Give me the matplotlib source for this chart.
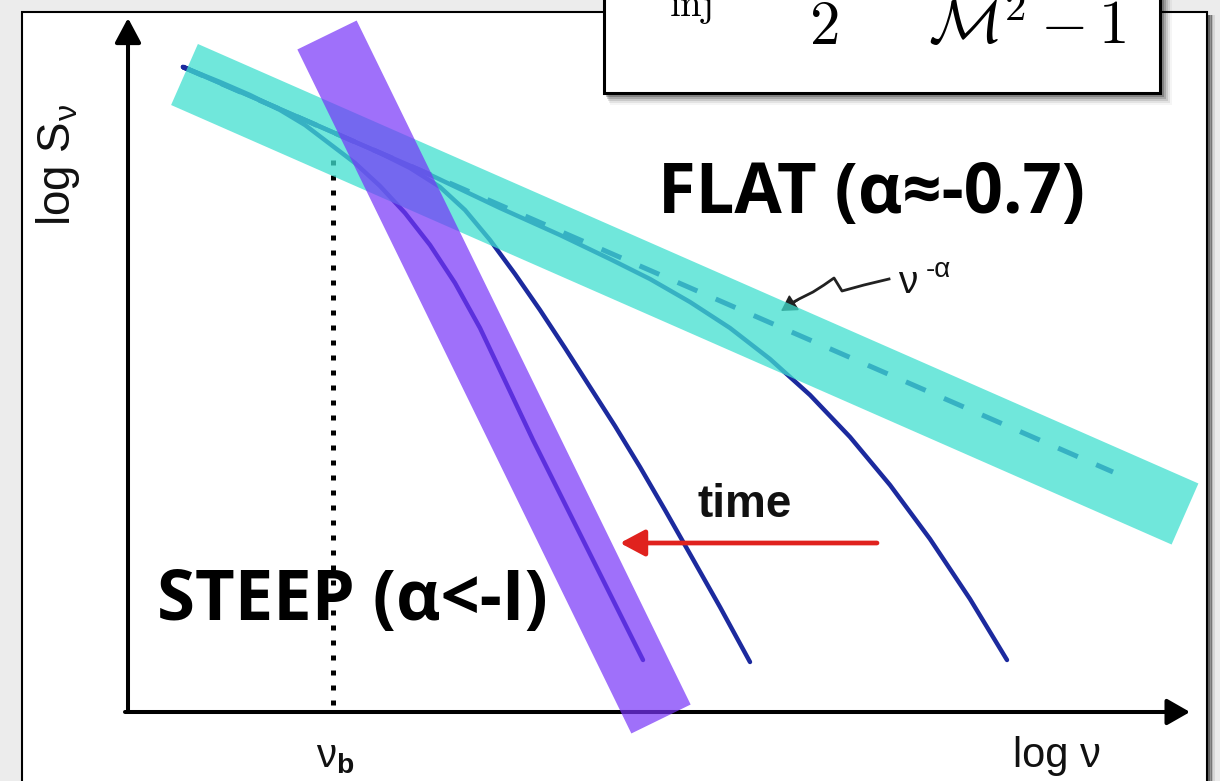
import matplotlib.pyplot as plt
from matplotlib.patches import Rectangle, FancyArrowPatch

plt.rcParams['mathtext.fontset'] = 'custom'
plt.rcParams['mathtext.rm'] = 'Liberation Sans'
plt.rcParams['mathtext.it'] = 'Liberation Sans'
plt.rcParams['mathtext.bf'] = 'Liberation Sans:bold'

# spectra in (log nu, log S), arbitrary units from the axis corner
powerlaw_nu = [0.55, 9.85]
powerlaw_S = [6.45, 2.40]

young_nu = [0.55, 1.22, 2.02, 2.92, 3.72, 4.32, 4.82, 5.22, 5.62, 6.02, 6.42,
            6.82, 7.22, 7.62, 8.02, 8.42, 8.79]
young_S = [6.45, 6.16, 5.81, 5.42, 5.04, 4.77, 4.53, 4.33, 4.10, 3.84, 3.53,
           3.17, 2.75, 2.27, 1.73, 1.13, 0.52]

middle_nu = [0.55, 1.22, 2.02, 2.52, 2.82, 3.12, 3.37, 3.62, 3.87, 4.12, 4.37,
             4.62, 4.87, 5.12, 5.37, 5.62, 5.92, 6.22]
middle_S = [6.45, 6.16, 5.81, 5.59, 5.44, 5.25, 5.02, 4.72, 4.38, 4.02, 3.64,
            3.25, 2.86, 2.45, 2.02, 1.58, 1.05, 0.50]

old_nu = [0.55, 0.92, 1.22, 1.52, 1.77, 2.02, 2.27, 2.52, 2.77, 3.02, 3.27,
          3.52, 3.79, 4.05, 4.32, 4.60, 4.87, 5.15]
old_S = [6.45, 6.30, 6.17, 6.02, 5.87, 5.68, 5.49, 5.26, 4.99, 4.67, 4.29,
         3.84, 3.27, 2.72, 2.18, 1.62, 1.08, 0.52]

nu_break = 2.05

# highlight bands (end points along their centre lines)
flat_band_nu = [0.565, 10.57]
flat_band_S = [6.375, 1.98]
steep_band_nu = [1.99, 5.33]
steep_band_S = [6.77, -0.07]

W, H = 1220, 781
fig = plt.figure(figsize=(12.2, 7.81), dpi=100, facecolor='#ececec')

# page frame
bg = fig.add_axes([0, 0, 1, 1], zorder=0)
bg.set_xlim(0, W)
bg.set_ylim(H, 0)
bg.axis('off')
for i, a in enumerate([0.7, 0.45, 0.25, 0.1]):
    bg.plot([1209 + 1.5 * i, 1209 + 1.5 * i], [16, H], color='#222222', lw=1.4, alpha=a)
bg.add_patch(Rectangle((22, 12), 1185, 800, facecolor='white', edgecolor='black', lw=1.5))

# axis labels
bg.text(58, 165, r'log S$_{\nu}$', rotation=90, ha='center', va='center',
        fontsize=33, family='Liberation Sans', color='#111111')
bg.text(335, 756, r'$\nu_{\mathbf{b}}$', ha='center', va='center', fontsize=29,
        color='#111111')
bg.text(1057, 756, 'log ν', ha='center', va='center', fontsize=30,
        family='Liberation Sans', color='#111111')

# squiggly pointer to the power law
sq_x = [889, 864, 842, 834, 824, 813, 799, 790]
sq_y = [279, 285, 291, 278, 285, 292, 299, 304]
bg.plot(sq_x, sq_y, color='#222222', lw=2.0, solid_joinstyle='round')
bg.add_patch(FancyArrowPatch((798, 300), (781, 311), arrowstyle='-|>,head_length=0.6,head_width=0.35',
                             mutation_scale=16, color='#222222', lw=1.2, shrinkA=0, shrinkB=0))
bg.text(898, 283, 'ν', ha='left', va='center', fontsize=28, family='Liberation Sans',
        color='#111111')
bg.text(926, 270, '-α', ha='left', va='center', fontsize=20, family='Liberation Sans',
        color='#111111')

# spectra panel
ax = fig.add_axes([128 / W, (H - 712) / H, (1190 - 128) / W, (712 - 18) / H], zorder=1)
ax.set_xlim(0, 10.62)
ax.set_ylim(0, 6.94)
ax.axis('off')
ax.patch.set_visible(False)

navy = '#1c2a9e'
ax.plot(powerlaw_nu, powerlaw_S, color=navy, lw=3.6, dashes=(4.3, 4.0), zorder=2)
for nu, S in [(young_nu, young_S), (middle_nu, middle_S), (old_nu, old_S)]:
    ax.plot(nu, S, color=navy, lw=3.2, solid_capstyle='round', solid_joinstyle='round',
            zorder=3)

ax.plot([nu_break, nu_break], [0.07, 5.57], color='black', lw=3.6,
        linestyle=(0, (1, 2.0)), dash_capstyle='butt', zorder=2)

# axes with arrow heads
ax.add_patch(FancyArrowPatch((0, 0), (0, 6.94), arrowstyle='-|>,head_length=0.75,head_width=0.4',
                             mutation_scale=20, color='black', lw=2.9, shrinkA=0, shrinkB=0,
                             clip_on=False, zorder=4))
ax.add_patch(FancyArrowPatch((-0.03, 0), (10.62, 0), arrowstyle='-|>,head_length=0.7,head_width=0.4',
                             mutation_scale=20, color='black', lw=2.9, shrinkA=0, shrinkB=0,
                             clip_on=False, zorder=4))

# time arrow
ax.add_patch(FancyArrowPatch((7.49, 1.69), (4.92, 1.69), arrowstyle='-|>,head_length=0.75,head_width=0.4',
                             mutation_scale=20, color='#e0221e', lw=3.4, shrinkA=0, shrinkB=0,
                             zorder=3))
ax.text(6.17, 2.07, 'time', ha='center', va='center', fontsize=33, fontweight='bold',
        family='Liberation Sans', color='#111111', zorder=6)

# bands
ax.plot(flat_band_nu, flat_band_S, color='#40e0d0', alpha=0.75, lw=48,
        solid_capstyle='butt', zorder=5, clip_on=False)
ax.plot(steep_band_nu, steep_band_S, color='#7733f8', alpha=0.7, lw=47.5,
        solid_capstyle='butt', zorder=5.5, clip_on=False)

# overlay: formula box and labels
fg = fig.add_axes([0, 0, 1, 1], zorder=3)
fg.set_xlim(0, W)
fg.set_ylim(H, 0)
fg.axis('off')
fg.patch.set_visible(False)
for i, a in enumerate([0.22, 0.16, 0.11, 0.07, 0.04]):
    fg.add_patch(Rectangle((606 + i, -30), 558 + i, 127 + 2 * i,
                           facecolor='black', edgecolor='none', alpha=a))
fg.add_patch(Rectangle((604, -30), 556, 123, facecolor='white', edgecolor='black', lw=2.2))
fg.text(690, 6, r'$\mathrm{inj}$', ha='center', va='center', fontsize=28, math_fontfamily='cm')
fg.text(824, 28, r'$2$', ha='center', va='center', fontsize=44, math_fontfamily='cm')
fg.text(1027, 28, r'$\mathcal{M}^2-1$', ha='center', va='center', fontsize=44,
        math_fontfamily='cm')

big = ['Open Sans', 'Lato', 'DejaVu Sans']
fg.text(871, 195, 'FLAT (α≈-0.7)', ha='center', va='center', fontsize=49.5,
        fontweight='bold', family=big, color='black')
fg.text(352, 602, 'STEEP (α<-I)', ha='center', va='center', fontsize=49.5,
        fontweight='bold', family=big, color='black')

fig.savefig('out.png', dpi=100, facecolor=fig.get_facecolor())
